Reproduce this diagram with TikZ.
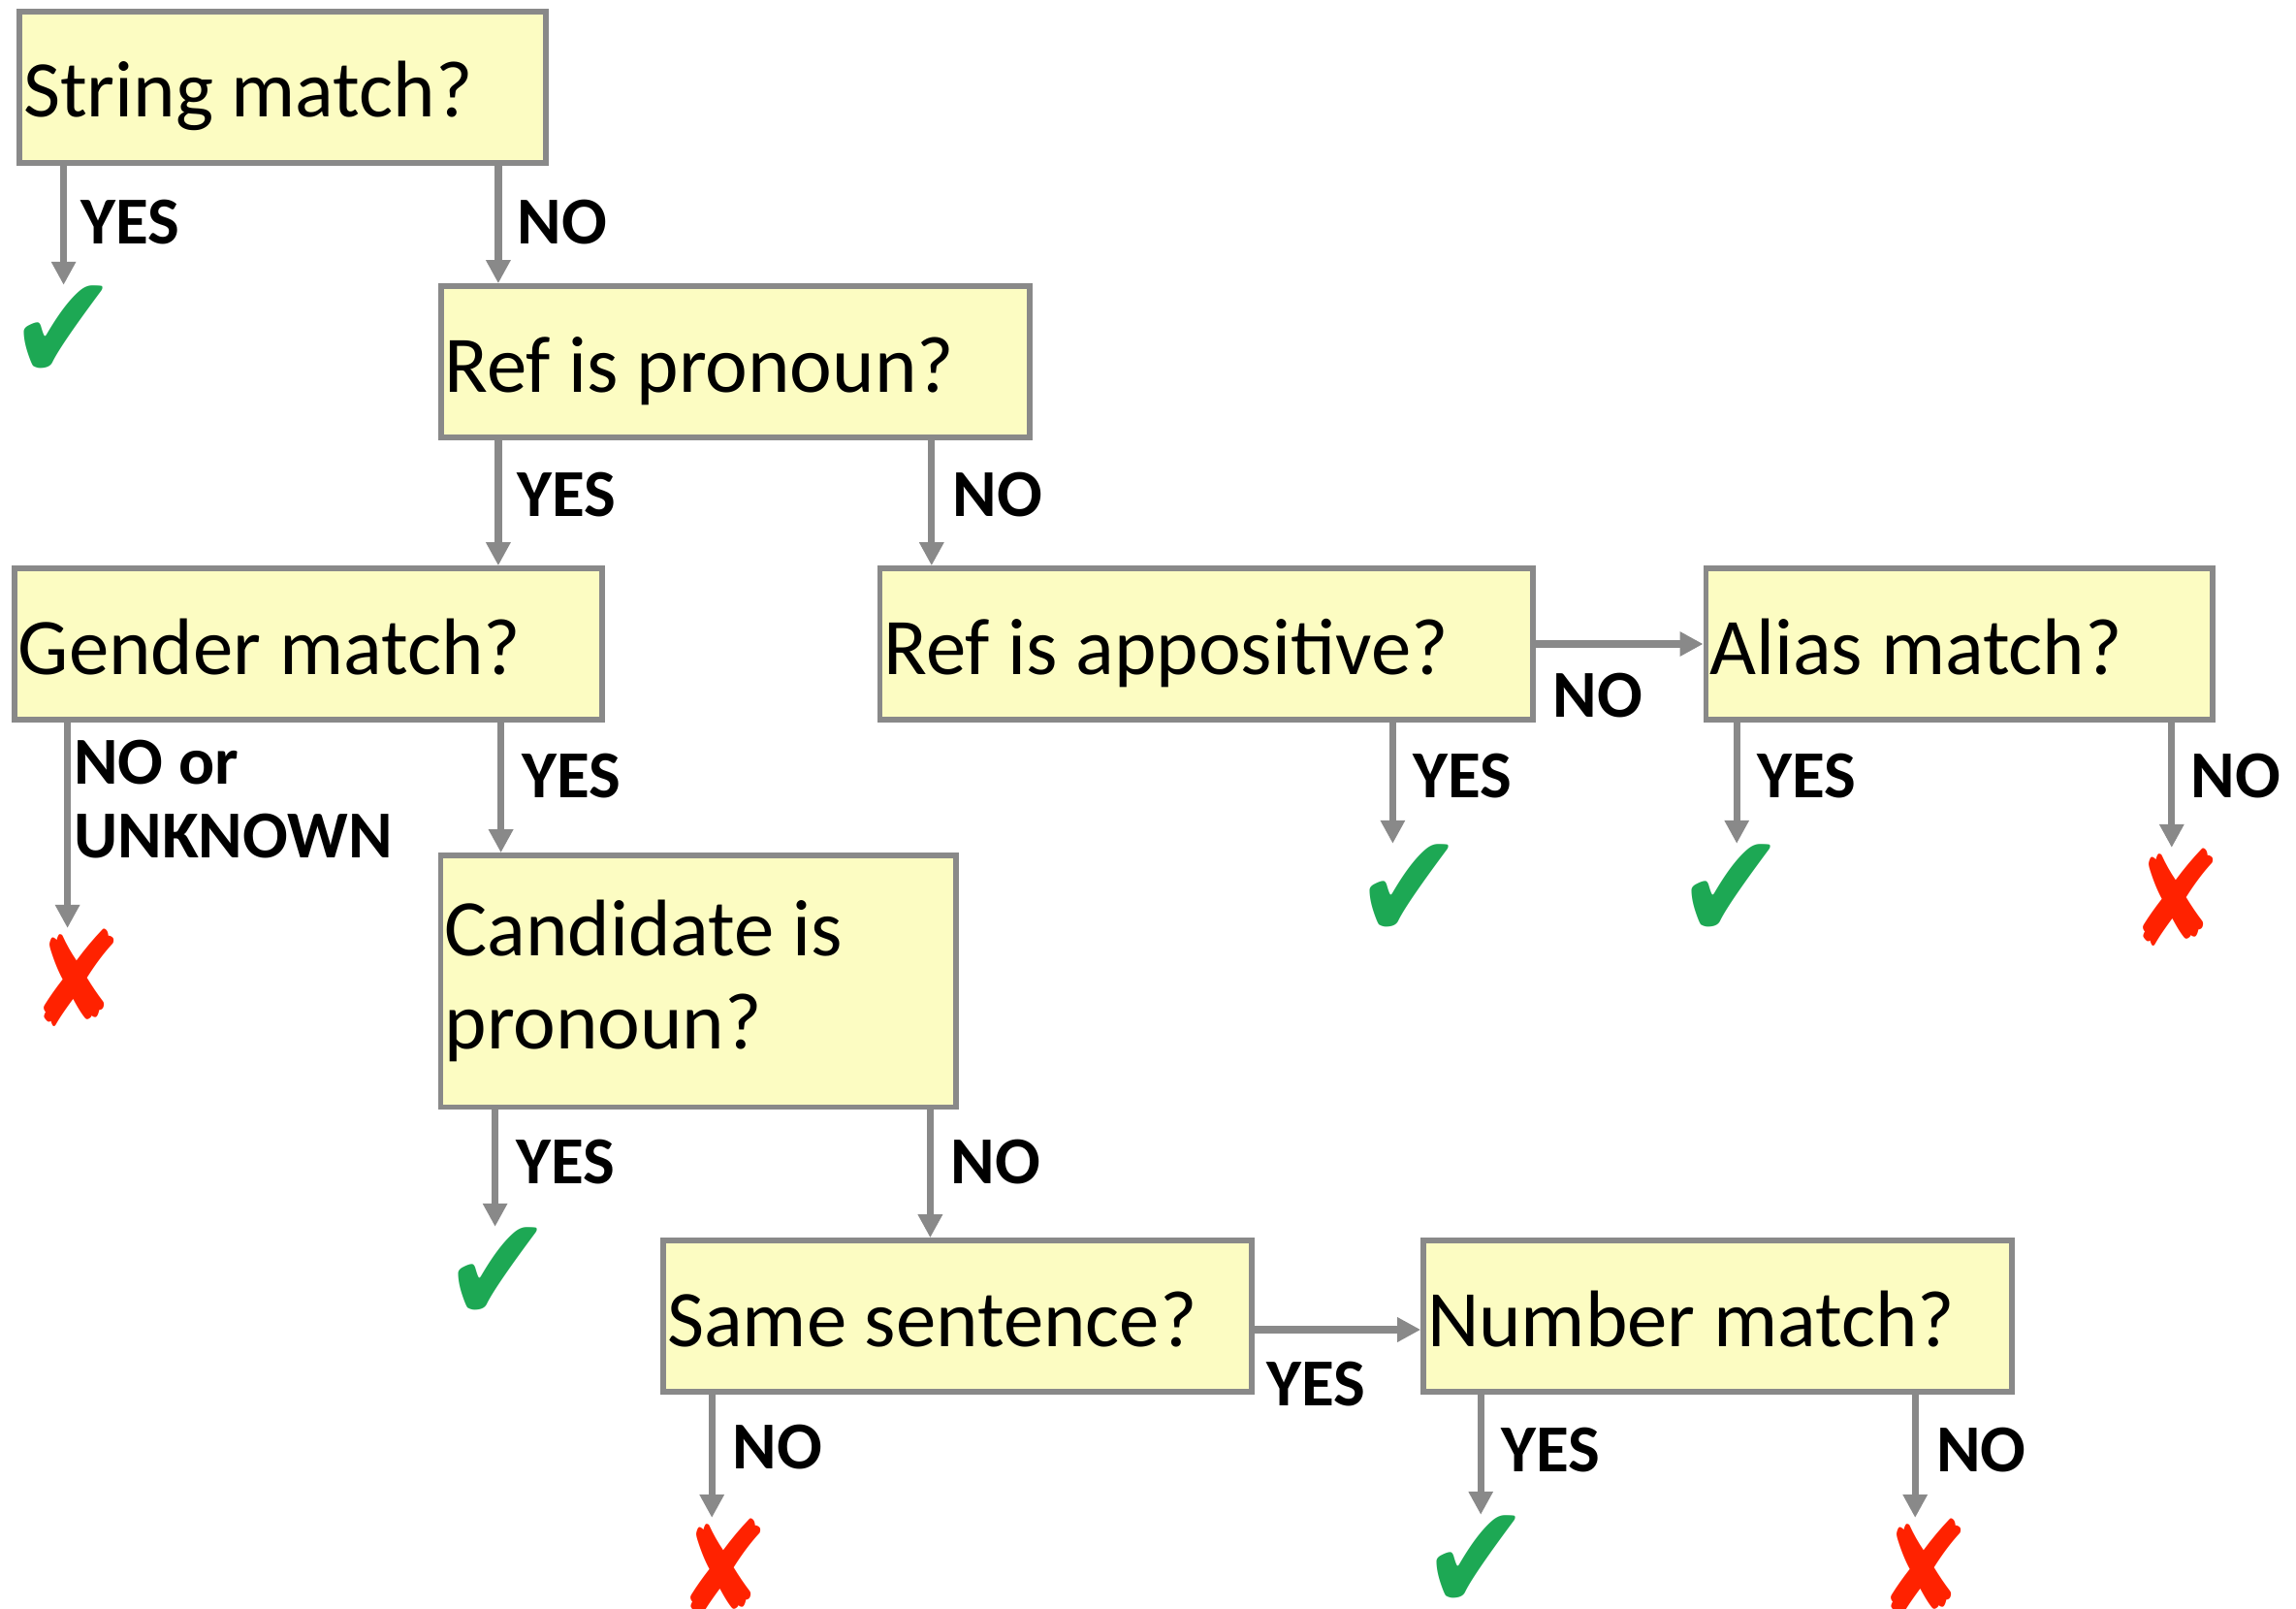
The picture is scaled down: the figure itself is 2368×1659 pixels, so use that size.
\documentclass[tikz,border=0pt]{standalone}
\usepackage{fontspec}
\setmainfont{Carlito}
\newfontfamily\markfont{DejaVu Sans}
\usetikzlibrary{arrows.meta}
\definecolor{boxfill}{RGB}{252,252,194}
\definecolor{linegray}{RGB}{137,137,137}
\definecolor{okgreen}{RGB}{29,168,84}
\definecolor{badred}{RGB}{255,34,0}
\newcommand\okmark{\scalebox{1.24}[1.45]{✔}}
\newcommand\badmark{\scalebox{.84}[1]{✘}}

\begin{document}
\begin{tikzpicture}[x=.25pt,y=-.25pt,
  qbox/.style={draw=linegray,line width=1.4pt,fill=boxfill,inner xsep=1pt,inner ysep=0pt,
    align=flush left,font=\fontsize{20.7}{24}\selectfont},
  oneline/.style={text height=18pt,text depth=2.5pt,minimum height=39pt},
  ans/.style={inner sep=0pt,anchor=west,font=\bfseries\fontsize{17.3}{19}\selectfont},
  arr/.style={draw=linegray,line width=1.8pt,-{Triangle[length=6pt,width=6pt]}},
  ok/.style={inner sep=0pt,text=okgreen,font=\markfont\fontsize{27}{27}\selectfont},
  bad/.style={inner sep=0pt,text=badred,font=\markfont\fontsize{34}{34}\selectfont}]

\useasboundingbox (0,0) rectangle (2368,1659);

% questions
\node[qbox,oneline,text width=133.75pt] (strmatch) at (291.5,90) {String match?};
\node[qbox,oneline,text width=149.75pt] (refpron) at (758.2,373) {Ref is pronoun?};
\node[qbox,oneline,text width=149.5pt] (gender) at (318,664) {Gender match?};
\node[qbox,oneline,text width=166.4pt] (appos) at (1244.4,664) {Ref is appositive?};
\node[qbox,oneline,text width=128.6pt] (alias) at (2020.6,664) {Alias match?};
\node[qbox,text width=130.9pt,minimum height=64.9pt] (candpron) at (720.4,1011.8) {Candidate is pronoun?};
\node[qbox,oneline,text width=149.75pt] (samesent) at (987.7,1357) {Same sentence?};
\node[qbox,oneline,text width=149.75pt] (nummatch) at (1771.5,1357) {Number match?};

% outcomes
\node[ok] (ok1) at (66,344) {\okmark};
\node[bad] (bad1) at (79,1008) {\badmark};
\node[ok] (ok2) at (1454,920) {\okmark};
\node[ok] (ok3) at (1786,920) {\okmark};
\node[bad] (bad2) at (2244,925) {\badmark};
\node[ok] (ok4) at (514,1315) {\okmark};
\node[bad] (bad3) at (746,1616) {\badmark};
\node[ok] (ok5) at (1523,1612) {\okmark};
\node[bad] (bad4) at (1984,1616) {\badmark};

% arrows
\draw[arr] ([xshift=12.1pt]strmatch.south west) -- ([xshift=12.1pt]strmatch.south west |- ok1.north);
\draw[arr] ([xshift=15.5pt]refpron.north west |- strmatch.south) -- ([xshift=15.5pt]refpron.north west);
\draw[arr] ([xshift=15.5pt]refpron.south west) -- ([xshift=15.5pt]refpron.south west |- gender.north);
\draw[arr] ([xshift=14pt]appos.north west |- refpron.south) -- ([xshift=14pt]appos.north west);
\draw[arr] ([xshift=14.35pt]gender.south west) -- ([xshift=14.35pt]gender.south west |- bad1.north);
\draw[arr] ([xshift=16.2pt]candpron.north west |- gender.south) -- ([xshift=16.2pt]candpron.north west);
\draw[arr] (appos.east) -- (alias.west);
\draw[arr] ([xshift=132.9pt]appos.south west) -- ([xshift=132.9pt]appos.south west |- ok2.north);
\draw[arr] ([xshift=8.65pt]alias.south west) -- ([xshift=8.65pt]alias.south west |- ok3.north);
\draw[arr] ([xshift=120.8pt]alias.south west) -- ([xshift=120.8pt]alias.south west |- bad2.north);
\draw[arr] ([xshift=14.7pt]candpron.south west) -- ([xshift=14.7pt]candpron.south west |- ok4.north);
\draw[arr] ([xshift=69.5pt]samesent.north west |- candpron.south) -- ([xshift=69.5pt]samesent.north west);
\draw[arr] ([yshift=-3.5pt]samesent.east) -- ([yshift=-3.5pt]nummatch.west);
\draw[arr] ([xshift=13.2pt]samesent.south west) -- ([xshift=13.2pt]samesent.south west |- bad3.north);
\draw[arr] ([xshift=15.5pt]nummatch.south west) -- ([xshift=15.5pt]nummatch.south west |- ok5.north);
\draw[arr] ([xshift=127.5pt]nummatch.south west) -- ([xshift=127.5pt]nummatch.south west |- bad4.north);

% answers
\node[ans] (l1) at (83,229.5) {YES};
\node[ans] (l2) at (533,229.5) {NO};
\node[ans] (l3) at (533,510) {YES};
\node[ans] (l4) at (981.6,510) {NO};
\node[ans,anchor=north west,align=left] (l5) at (75.5,762) {NO or\\UNKNOWN};
\node[ans] (l6) at (537.6,800) {YES};
\node[ans] (l7) at (1601,717) {NO};
\node[ans] (l8) at (1457,800) {YES};
\node[ans] (l9) at (1812,800) {YES};
\node[ans] (l10) at (2259,800) {NO};
\node[ans] (l11) at (531.6,1197.6) {YES};
\node[ans] (l12) at (980,1197.6) {NO};
\node[ans] (l13) at (1306,1427) {YES};
\node[ans] (l14) at (755,1492) {NO};
\node[ans] (l15) at (1548,1495) {YES};
\node[ans] (l16) at (1996.5,1495) {NO};

\end{tikzpicture}
\end{document}
